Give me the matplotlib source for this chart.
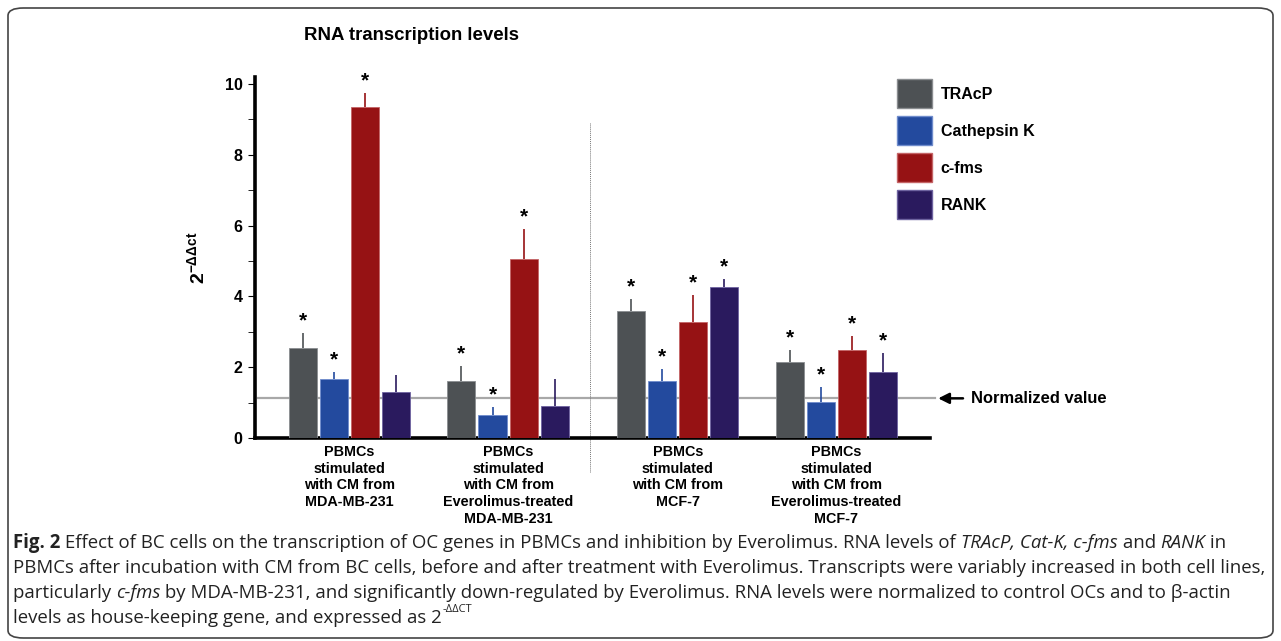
import matplotlib
matplotlib.use('Agg')
import matplotlib.pyplot as plt
from matplotlib.patches import FancyBboxPatch, Patch
import matplotlib.transforms as mtransforms
import numpy as np

plt.rcParams['font.family'] = ['Liberation Sans', 'DejaVu Sans']
plt.rcParams['mathtext.fontset'] = 'custom'
plt.rcParams['mathtext.rm'] = 'Liberation Sans:bold'
plt.rcParams['mathtext.it'] = 'Liberation Sans:bold'
plt.rcParams['mathtext.bf'] = 'Liberation Sans:bold'
plt.rcParams['mathtext.default'] = 'rm'

# data
genes = ['TRAcP', 'Cathepsin K', 'c-fms', 'RANK']
groups = ['PBMCs\nstimulated\nwith CM from\nMDA-MB-231',
          'PBMCs\nstimulated\nwith CM from\nEverolimus-treated\nMDA-MB-231',
          'PBMCs\nstimulated\nwith CM from\nMCF-7',
          'PBMCs\nstimulated\nwith CM from\nEverolimus-treated\nMCF-7']
tracp = [2.53, 1.62, 3.60, 2.16]
tracp_err = [0.44, 0.42, 0.33, 0.33]
catk = [1.68, 0.65, 1.62, 1.01]
catk_err = [0.19, 0.23, 0.34, 0.44]
cfms = [9.34, 5.05, 3.28, 2.49]
cfms_err = [0.41, 0.86, 0.77, 0.40]
rank = [1.30, 0.90, 4.27, 1.86]
rank_err = [0.49, 0.77, 0.23, 0.55]
# significance stars per gene, per group
tracp_sig = [True, True, True, True]
catk_sig = [True, True, True, True]
cfms_sig = [True, True, True, True]
rank_sig = [False, False, True, True]
normalized = 1.12

values = [tracp, catk, cfms, rank]
errors = [tracp_err, catk_err, cfms_err, rank_err]
sigs = [tracp_sig, catk_sig, cfms_sig, rank_sig]
colors = ['#4d5154', '#234a9e', '#961214', '#2a1a5e']
edges = ['#8a8d90', '#6f8ccc', '#c46466', '#6e63a0']

fig = plt.figure(figsize=(12.81, 6.41), dpi=100)
ax = fig.add_axes([0.199, 0.3167, 0.527, 0.5633])

xpos = np.array([0.0, 1.0, 2.07, 3.07])
width = 0.177
step = 0.196

for i in range(4):
    xs = xpos + (i - 1.5) * step
    ax.bar(xs, values[i], width, color=colors[i], edgecolor=edges[i],
           linewidth=0.6, zorder=3)
    ax.errorbar(xs, values[i], yerr=[np.zeros(4), errors[i]], fmt='none',
                ecolor=colors[i], elinewidth=1.2, capsize=0, zorder=2)
    for j in range(4):
        if sigs[i][j]:
            ax.text(xs[j], values[i][j] + errors[i][j] + 0.06, '*',
                    ha='center', va='bottom', fontsize=15, fontweight='bold')

ax.set_xlim(-0.596, 3.66)
ax.set_ylim(0, 10.2)

ax.axhline(normalized, color='#a8a8a8', linewidth=1.6, zorder=1,
           xmin=0.004, xmax=1.007, clip_on=False)
ax.annotate('', xy=(1.008, normalized), xycoords=('axes fraction', 'data'),
            xytext=(1.053, normalized),
            arrowprops=dict(arrowstyle='-|>', color='black', lw=1.8,
                            mutation_scale=16))
ax.text(1.061, normalized, 'Normalized value', transform=ax.get_yaxis_transform(),
        ha='left', va='center', fontsize=11.9, fontweight='bold')

# divider between cell lines
div = (xpos[1] + xpos[2]) / 2 - 0.02
ax.plot([div, div], [-0.95, 8.9], color='#777777', linewidth=0.7,
        linestyle=(0, (1, 1)), clip_on=False, zorder=1)

for side in ['top', 'right']:
    ax.spines[side].set_visible(False)
ax.spines['left'].set_linewidth(2.6)
ax.spines['bottom'].set_linewidth(2.6)
ax.set_xticks([])
ax.set_yticks([0, 2, 4, 6, 8, 10])
ax.set_yticks([1, 3, 5, 7, 9], minor=True)
ax.tick_params(axis='y', which='major', length=5, width=0.8, labelsize=11.5, pad=4)
ax.tick_params(axis='y', which='minor', length=5, width=0.6)
for lab in ax.get_yticklabels():
    lab.set_fontweight('bold')

ax.set_ylabel(r'$2^{-\Delta\Delta ct}$', fontsize=14, labelpad=12)

trans = mtransforms.blended_transform_factory(ax.transData, fig.transFigure)
for j in range(4):
    ax.text(xpos[j], 1 - 445 / 641, groups[j], transform=trans, ha='center',
            va='top', fontsize=10.4, fontweight='bold', linespacing=1.24)

fig.text(411 / 1281, 1 - 35 / 641, 'RNA transcription levels', ha='center',
         va='center', fontsize=13.4, fontweight='bold')

handles = [Patch(facecolor=colors[i], edgecolor=edges[i]) for i in range(4)]
leg = fig.legend(handles, genes, loc='upper left', bbox_to_anchor=(0.690, 0.896),
                 frameon=False, handlelength=2.2, handleheight=2.41,
                 labelspacing=0.5, handletextpad=0.56, borderpad=0.3,
                 prop=dict(size=11.5, weight='bold'))

# caption frame
frame = FancyBboxPatch((8 / 1281, 3 / 641), 1265 / 1281, 630 / 641,
                       boxstyle='round,pad=0,rounding_size=0.012',
                       transform=fig.transFigure, facecolor='none',
                       edgecolor='#444444', linewidth=1.2)
fig.patches.append(frame)

cap_font = ['Open Sans', 'DejaVu Sans']
cap_lines = [
    [('Fig. 2', 'bold', 'normal'),
     (' Effect of BC cells on the transcription of OC genes in PBMCs and inhibition by Everolimus. RNA levels of ', 'normal', 'normal'),
     ('TRAcP, Cat-K, c-fms', 'normal', 'italic'), (' and ', 'normal', 'normal'),
     ('RANK', 'normal', 'italic'), (' in', 'normal', 'normal')],
    [('PBMCs after incubation with CM from BC cells, before and after treatment with Everolimus. Transcripts were variably increased in both cell lines,', 'normal', 'normal')],
    [('particularly ', 'normal', 'normal'), ('c-fms', 'normal', 'italic'),
     (' by MDA-MB-231, and significantly down-regulated by Everolimus. RNA levels were normalized to control OCs and to \u03b2-actin', 'normal', 'normal')],
    [('levels as house-keeping gene, and expressed as 2', 'normal', 'normal')],
]
cap_y = [543, 568, 593, 618]

# pick a caption size so the widest full line spans the frame as in the original
fig.canvas.draw()
renderer = fig.canvas.get_renderer()
probe = fig.text(0, 0, cap_lines[1][0][0], fontsize=10, family=cap_font)
w10 = probe.get_window_extent(renderer).width
probe.remove()
cap_size = 10 * 1249 / w10

last = None
for line, yy in zip(cap_lines, cap_y):
    x = 13
    for txt, wt, st in line:
        t = fig.text(x / 1281, 1 - yy / 641, txt, ha='left', va='center',
                     fontsize=cap_size, fontweight=wt, fontstyle=st,
                     family=cap_font, color='#222222')
        bb = t.get_window_extent(renderer)
        x += bb.width
    last = x
fig.text((last + 1) / 1281, 1 - (618 - 8) / 641, '-\u0394\u0394CT', ha='left',
         va='center', fontsize=cap_size * 0.6, family=cap_font, color='#222222')

fig.savefig('out.png', dpi=100)
